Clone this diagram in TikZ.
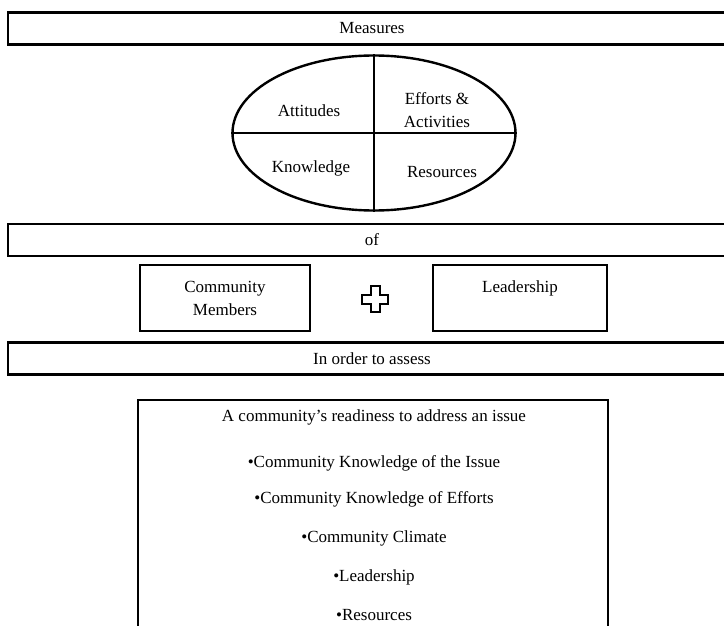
\documentclass[tikz,border=0pt]{standalone}
\usepackage{fontspec}
\setmainfont{Liberation Serif}
\usetikzlibrary{shapes.geometric}

\begin{document}
\begin{tikzpicture}[x=1pt,y=-1pt,
bar/.style={draw,rectangle,line width=2.6pt,minimum width=728pt,minimum height=32pt,inner sep=0pt},
sysblock/.style={draw,rectangle,line width=2.6pt,minimum width=170pt,minimum height=66pt,align=center,inner sep=0pt},
quad/.style={draw,ellipse,line width=2.4pt,minimum width=283pt,minimum height=155pt,inner sep=0pt},
lbl/.style={align=center,inner sep=0pt},
font=\fontsize{17}{23}\selectfont]
\path[use as bounding box,clip] (0,0) rectangle (724,626);

\draw (372,28.5) node[bar] (measures) {Measures};
\draw (374,133) node[quad] (qual) {};
\draw[line width=1.1pt] (qual.north) -- (qual.south);
\draw[line width=1.1pt] (qual.west) -- (qual.east);
\draw (309,111) node[lbl] (att) {Attitudes};
\draw (437,110) node[lbl] (eff) {Efforts \&\\Activities};
\draw (311,168) node[lbl] (know) {Knowledge};
\draw (442,172) node[lbl] (res) {Resources};

\draw (372,240) node[bar] (of) {of};
\draw (225,298) node[sysblock] (members) {Community\\Members};
\draw (520,298) node[sysblock,minimum width=174pt] (lead) {Leadership\\\mbox{}};
\draw (375,299) coordinate (plus);
\draw[line width=2pt,line join=miter] (plus) ++(-4.5,-13) -- ++(9,0) -- ++(0,8.5) -- ++(8.5,0) -- ++(0,9)
  -- ++(-8.5,0) -- ++(0,8.5) -- ++(-9,0) -- ++(0,-8.5) -- ++(-8.5,0) -- ++(0,-9) -- ++(8.5,0) -- cycle;
\draw (372,358.5) node[bar] (assess) {In order to assess};

\draw (373,530) node[draw,rectangle,line width=2.6pt,minimum width=470pt,minimum height=260pt] (ready) {};
\draw (374,417) node[lbl] (title) {A community's readiness to address an issue};
\draw (374,463) node[lbl] (kissue) {\textbullet Community Knowledge of the Issue};
\draw (374,499) node[lbl] (keff) {\textbullet Community Knowledge of Efforts};
\draw (374,538) node[lbl] (clim) {\textbullet Community Climate};
\draw (374,577) node[lbl] (leader) {\textbullet Leadership};
\draw (374,615) node[lbl] (resrc) {\textbullet Resources};

\end{tikzpicture}
\end{document}
